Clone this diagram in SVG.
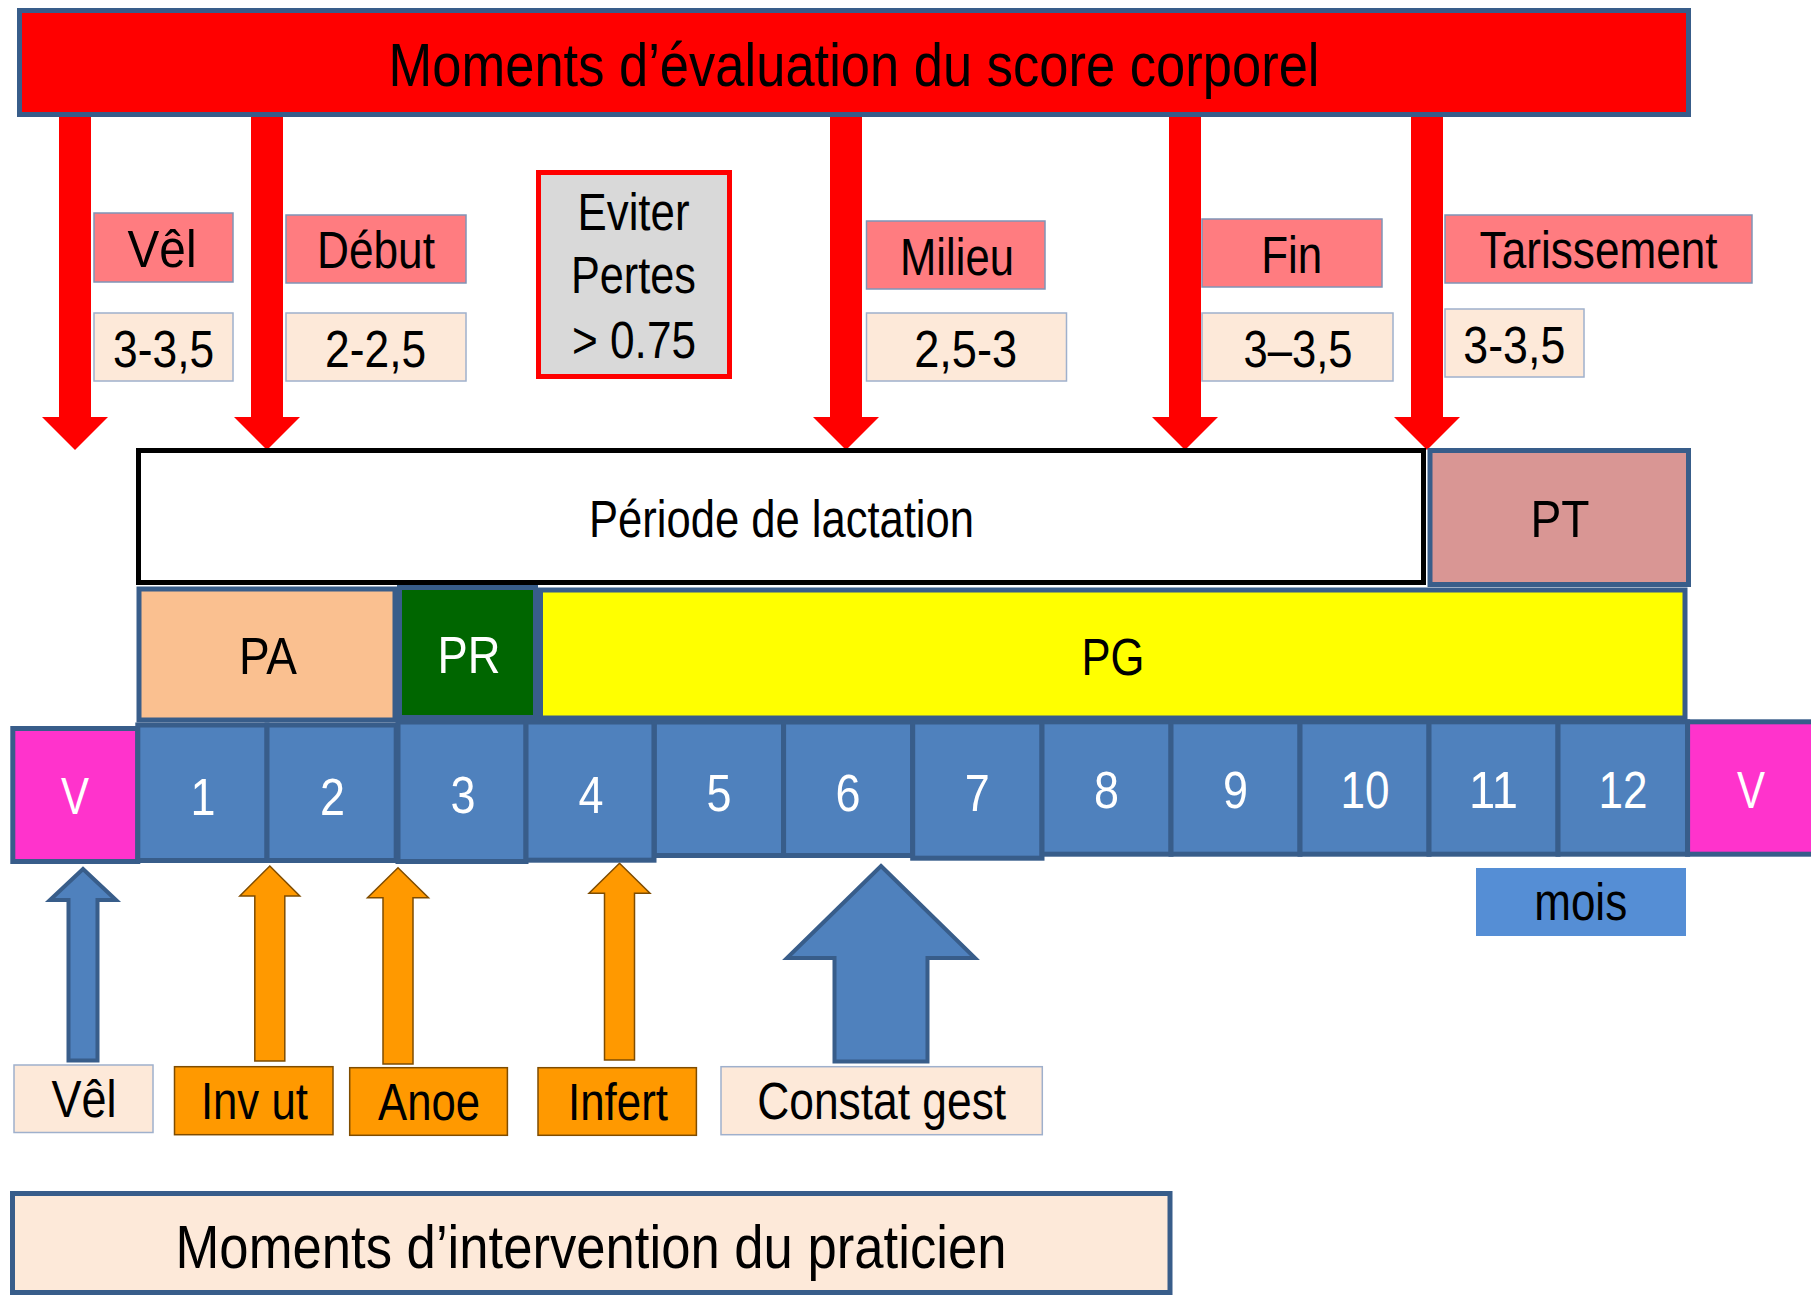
<svg xmlns="http://www.w3.org/2000/svg" width="1811" height="1295" viewBox="0 0 1811 1295">
  <style>
    .t { font-family: "Liberation Sans Narrow", "Liberation Sans", Arial, sans-serif; text-anchor: middle; fill: #000; }
    .big { font-size: 62px; }
    .lbl { font-size: 51px; }
    .num { font-size: 52px; fill: #fff; }
    .w { fill: #fff; }
    .score { fill: #ff7c80; stroke: #8094b6; stroke-width: 1.5; }
    .val { fill: #fde9d9; stroke: #9fb0cc; stroke-width: 1.5; }
    .cell { fill: #4f81bd; stroke: #385d8a; stroke-width: 5; }
    .edge { stroke: #385d8a; stroke-width: 5; }
    .red-arrow { fill: #ff0000; }
    .blue-arrow { fill: #4f81bd; stroke: #385d8a; stroke-width: 4; stroke-linejoin: miter; }
    .orange-arrow { fill: #ff9900; stroke: #7f4c00; stroke-width: 1.5; }
    .orange-box { fill: #ff9900; stroke: #7f4c00; stroke-width: 1.5; }
  </style>
  <rect width="1811" height="1295" fill="#fff"/>

  <!-- evaluation and intervention arrows -->
  <g id="connectors">
    <polygon class="red-arrow" points="59,112 91,112 91,417 108,417 75,450 42,417 59,417"/>
    <polygon class="red-arrow" points="251,112 283,112 283,417 300,417 267,450 234,417 251,417"/>
    <polygon class="red-arrow" points="830,112 862,112 862,417 879,417 846,450 813,417 830,417"/>
    <polygon class="red-arrow" points="1169,112 1201,112 1201,417 1218,417 1185,450 1152,417 1169,417"/>
    <polygon class="red-arrow" points="1411,112 1443,112 1443,417 1460,417 1427,450 1394,417 1411,417"/>

    <polygon class="blue-arrow" points="83,869 116,900 97.5,900 97.5,1060.5 68.5,1060.5 68.5,900 50,900"/>
    <polygon class="orange-arrow" points="269.8,866 299.8,896 284.8,896 284.8,1061 254.8,1061 254.8,896 239.8,896"/>
    <polygon class="orange-arrow" points="398,867.7 428.5,897.7 413,897.7 413,1064 383,1064 383,897.7 367.5,897.7"/>
    <polygon class="orange-arrow" points="619.5,863.3 650,893.3 634.5,893.3 634.5,1060 604.5,1060 604.5,893.3 589,893.3"/>
    <polygon class="blue-arrow" stroke-width="5" points="881,866 975,958 927.5,958 927.5,1061.5 834.5,1061.5 834.5,958 787,958"/>
  </g>

  <g id="titre-evaluation">
    <rect x="19.5" y="10.5" width="1669" height="104" fill="#ff0000" class="edge"/>
    <text class="t big" x="854" y="86" textLength="931" lengthAdjust="spacingAndGlyphs">Moments d’évaluation du score corporel</text>
  </g>

  <g id="vel-score">
    <rect class="score" x="94" y="213" width="139" height="69"/>
    <text class="t lbl" x="162" y="266.7" textLength="69" lengthAdjust="spacingAndGlyphs">Vêl</text>
    <rect class="val" x="94" y="313" width="139" height="68"/>
    <text class="t lbl" x="163.6" y="366.7" textLength="101" lengthAdjust="spacingAndGlyphs">3-3,5</text>
  </g>
  <g id="debut-score">
    <rect class="score" x="286" y="215" width="180" height="68"/>
    <text class="t lbl" x="376" y="268.3" textLength="118" lengthAdjust="spacingAndGlyphs">Début</text>
    <rect class="val" x="286" y="313" width="180" height="68"/>
    <text class="t lbl" x="375.6" y="366.7" textLength="101" lengthAdjust="spacingAndGlyphs">2-2,5</text>
  </g>
  <g id="eviter-pertes">
    <rect x="538.5" y="172.5" width="191" height="204" fill="#d9d9d9" stroke="#ff0000" stroke-width="5"/>
    <text class="t lbl" x="633.5" y="230" textLength="112" lengthAdjust="spacingAndGlyphs">Eviter</text>
    <text class="t lbl" x="633.4" y="293.3" textLength="125" lengthAdjust="spacingAndGlyphs">Pertes</text>
    <text class="t lbl" x="634" y="358.3" textLength="124" lengthAdjust="spacingAndGlyphs">&gt; 0.75</text>
  </g>
  <g id="milieu-score">
    <rect class="score" x="866.5" y="221" width="178.5" height="68"/>
    <text class="t lbl" x="957" y="275" textLength="114" lengthAdjust="spacingAndGlyphs">Milieu</text>
    <rect class="val" x="866.5" y="313" width="200" height="68"/>
    <text class="t lbl" x="965.7" y="366.7" textLength="103" lengthAdjust="spacingAndGlyphs">2,5-3</text>
  </g>
  <g id="fin-score">
    <rect class="score" x="1202" y="219" width="180" height="68"/>
    <text class="t lbl" x="1291.7" y="272.7" textLength="61" lengthAdjust="spacingAndGlyphs">Fin</text>
    <rect class="val" x="1202" y="313" width="191" height="68"/>
    <text class="t lbl" x="1298" y="366.7" textLength="109" lengthAdjust="spacingAndGlyphs">3–3,5</text>
  </g>
  <g id="tarissement-score">
    <rect class="score" x="1445" y="215" width="307" height="68"/>
    <text class="t lbl" x="1598.6" y="268.3" textLength="238" lengthAdjust="spacingAndGlyphs">Tarissement</text>
    <rect class="val" x="1445" y="309" width="139" height="68"/>
    <text class="t lbl" x="1514.3" y="362.7" textLength="102" lengthAdjust="spacingAndGlyphs">3-3,5</text>
  </g>

  <!-- cycle periods -->
  <g id="periode-lactation">
    <rect x="138.5" y="450.5" width="1285" height="132" fill="#fff" stroke="#000" stroke-width="5"/>
    <text class="t lbl" x="781.5" y="537.3" textLength="385" lengthAdjust="spacingAndGlyphs">Période de lactation</text>
  </g>
  <g id="pt">
    <rect x="1430" y="450.5" width="258.5" height="134" fill="#d99694" class="edge"/>
    <text class="t lbl" x="1560" y="537" textLength="59" lengthAdjust="spacingAndGlyphs">PT</text>
  </g>

  <!-- months -->
  <g id="mois-v-debut">
    <rect x="12.8" y="728.5" width="125" height="133" fill="#ff33cc" class="edge"/>
    <text class="t num" x="75" y="814" textLength="28" lengthAdjust="spacingAndGlyphs">V</text>
  </g>
  <g id="mois-1"><rect class="cell" x="137.8" y="725" width="129.2" height="135.5"/><text class="t num" x="203" y="815" textLength="25" lengthAdjust="spacingAndGlyphs">1</text></g>
  <g id="mois-2"><rect class="cell" x="267" y="725" width="129.2" height="135.5"/><text class="t num" x="332.5" y="815" textLength="25" lengthAdjust="spacingAndGlyphs">2</text></g>
  <g id="mois-3"><rect class="cell" x="398" y="722" width="128" height="139.5"/><text class="t num" x="463" y="812.7" textLength="25" lengthAdjust="spacingAndGlyphs">3</text></g>
  <g id="mois-4"><rect class="cell" x="526" y="722" width="128" height="138.2"/><text class="t num" x="591" y="813" textLength="25" lengthAdjust="spacingAndGlyphs">4</text></g>
  <g id="mois-5"><rect class="cell" x="654.4" y="722" width="129.2" height="133.5"/><text class="t num" x="719" y="811" textLength="25" lengthAdjust="spacingAndGlyphs">5</text></g>
  <g id="mois-6"><rect class="cell" x="783.6" y="722" width="129.1" height="133.5"/><text class="t num" x="848" y="811" textLength="25" lengthAdjust="spacingAndGlyphs">6</text></g>
  <g id="mois-7"><rect class="cell" x="912.7" y="722" width="129.3" height="136.2"/><text class="t num" x="977.3" y="811" textLength="25" lengthAdjust="spacingAndGlyphs">7</text></g>
  <g id="mois-8"><rect class="cell" x="1042" y="721.8" width="129" height="132.4"/><text class="t num" x="1106.5" y="808.3" textLength="25" lengthAdjust="spacingAndGlyphs">8</text></g>
  <g id="mois-9"><rect class="cell" x="1171" y="721.8" width="129" height="132.4"/><text class="t num" x="1235.5" y="808.3" textLength="25" lengthAdjust="spacingAndGlyphs">9</text></g>
  <g id="mois-10"><rect class="cell" x="1300" y="721.8" width="129" height="132.4"/><text class="t num" x="1365" y="808.3" textLength="49" lengthAdjust="spacingAndGlyphs">10</text></g>
  <g id="mois-11"><rect class="cell" x="1429" y="721.8" width="129" height="132.4"/><text class="t num" x="1493.5" y="808.3" textLength="49" lengthAdjust="spacingAndGlyphs">11</text></g>
  <g id="mois-12"><rect class="cell" x="1558" y="721.8" width="129.6" height="132.4"/><text class="t num" x="1623" y="808.3" textLength="49" lengthAdjust="spacingAndGlyphs">12</text></g>
  <g id="mois-v-fin">
    <rect x="1687.6" y="721.8" width="130" height="132.4" fill="#ff33cc" class="edge"/>
    <text class="t num" x="1751" y="808.3" textLength="28" lengthAdjust="spacingAndGlyphs">V</text>
  </g>

  <!-- physiological phases (drawn over the month row top edge) -->
  <g id="pa">
    <rect x="139" y="589" width="256" height="131" fill="#fac090" class="edge"/>
    <text class="t lbl" x="268" y="674.3" textLength="58" lengthAdjust="spacingAndGlyphs">PA</text>
  </g>
  <g id="pr">
    <rect x="399.5" y="587.5" width="136" height="130" fill="#006600" class="edge"/>
    <text class="t lbl w" x="469" y="672.7" textLength="63" lengthAdjust="spacingAndGlyphs">PR</text>
  </g>
  <g id="pg">
    <rect x="540.5" y="590" width="1144.5" height="128" fill="#ffff00" class="edge"/>
    <text class="t lbl" x="1113" y="675" textLength="63" lengthAdjust="spacingAndGlyphs">PG</text>
  </g>

  <g id="legende-mois">
    <rect x="1476" y="868" width="210" height="68" fill="#558ed5"/>
    <text class="t lbl" x="1580.7" y="920" textLength="93" lengthAdjust="spacingAndGlyphs">mois</text>
  </g>

  <!-- practitioner interventions -->
  <g id="intervention-vel">
    <rect class="val" x="14" y="1065" width="139" height="67.5"/>
    <text class="t lbl" x="84" y="1116.7" textLength="65" lengthAdjust="spacingAndGlyphs">Vêl</text>
  </g>
  <g id="intervention-inv-ut">
    <rect class="orange-box" x="174.5" y="1066.7" width="158.5" height="68"/>
    <text class="t lbl" x="254.4" y="1119" textLength="107" lengthAdjust="spacingAndGlyphs">Inv ut</text>
  </g>
  <g id="intervention-anoe">
    <rect class="orange-box" x="349.7" y="1067.7" width="157.7" height="67.6"/>
    <text class="t lbl" x="429" y="1119.5" textLength="102" lengthAdjust="spacingAndGlyphs">Anoe</text>
  </g>
  <g id="intervention-infert">
    <rect class="orange-box" x="538" y="1067.7" width="158.4" height="67.6"/>
    <text class="t lbl" x="618" y="1119.5" textLength="100" lengthAdjust="spacingAndGlyphs">Infert</text>
  </g>
  <g id="intervention-constat">
    <rect class="val" x="721" y="1066.7" width="321.3" height="68"/>
    <text class="t lbl" x="881.7" y="1119" textLength="249" lengthAdjust="spacingAndGlyphs">Constat gest</text>
  </g>

  <g id="titre-intervention">
    <rect x="12.5" y="1193.5" width="1157.5" height="99" fill="#fde9d9" class="edge"/>
    <text class="t big" x="591" y="1267.7" textLength="831" lengthAdjust="spacingAndGlyphs">Moments d’intervention du praticien</text>
  </g>
</svg>
